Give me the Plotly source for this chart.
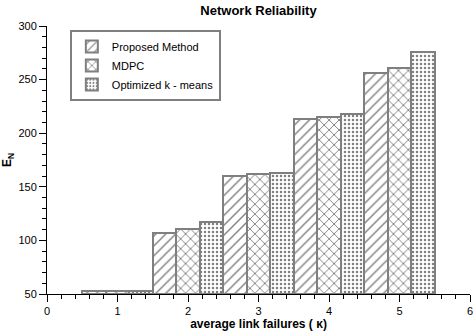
import plotly.graph_objects as go

categories = [1, 2, 3, 4, 5]
proposed = [52.5, 107, 160, 213.5, 256.5]
mdpc = [53, 110.5, 162, 215.5, 261]
optimized = [52.5, 117, 163, 217.5, 276]

series = [
    ("Proposed Method", proposed, "/", 7, 0.2),
    ("MDPC", mdpc, "x", 7, 0.25),
    ("Optimized k - means", optimized, ".", 4, 0.3),
]

font = "Liberation Sans"
fig = go.Figure()
for name, vals, shape, size, sol in series:
    fig.add_trace(go.Bar(
        x=categories, y=[v - 50 for v in vals], base=50, name=name,
        marker=dict(color="white",
                    line=dict(color="#7f7f7f", width=2),
                    pattern=dict(shape=shape, fgcolor="black", bgcolor="white",
                                 size=size, solidity=sol)),
    ))

fig.update_layout(
    width=474, height=331,
    margin=dict(l=47, r=4, t=26, b=37),
    paper_bgcolor="white", plot_bgcolor="white",
    barmode="group", bargap=0, bargroupgap=0,
    font=dict(family=font, size=12, color="black"),
    title=dict(text="<b>Network Reliability</b>", x=0.5, xref="paper", xanchor="center",
               y=1 - 10 / 331, yanchor="middle", font=dict(size=13)),
    legend=dict(x=0.054, y=0.985, xanchor="left", yanchor="top",
                bordercolor="#7f7f7f", borderwidth=2, bgcolor="white",
                font=dict(size=11), tracegroupgap=0, itemwidth=30,
                traceorder="normal"),
    showlegend=True,
)
fig.update_xaxes(
    range=[0, 6], dtick=1, tick0=0, showgrid=False, zeroline=False,
    showline=True, linecolor="black", linewidth=1, automargin=False,
    ticks="outside", ticklen=7, tickcolor="black", tickfont=dict(size=11),
    minor=dict(dtick=0.2, ticks="outside", ticklen=4, tickcolor="black", showgrid=False),
    title=dict(text="<b>average link failures ( κ)</b>", font=dict(size=12)),
)
fig.update_yaxes(
    range=[50, 300], dtick=50, tick0=50, showgrid=False, zeroline=False,
    showline=True, linecolor="black", linewidth=1, automargin=False,
    ticks="outside", ticklen=7, tickcolor="black", tickfont=dict(size=11),
    minor=dict(dtick=10, ticks="outside", ticklen=4, tickcolor="black", showgrid=False),
    title=dict(text="<b>E<sub>N</sub></b>", font=dict(size=12)),
)
fig.write_html("out.html")
